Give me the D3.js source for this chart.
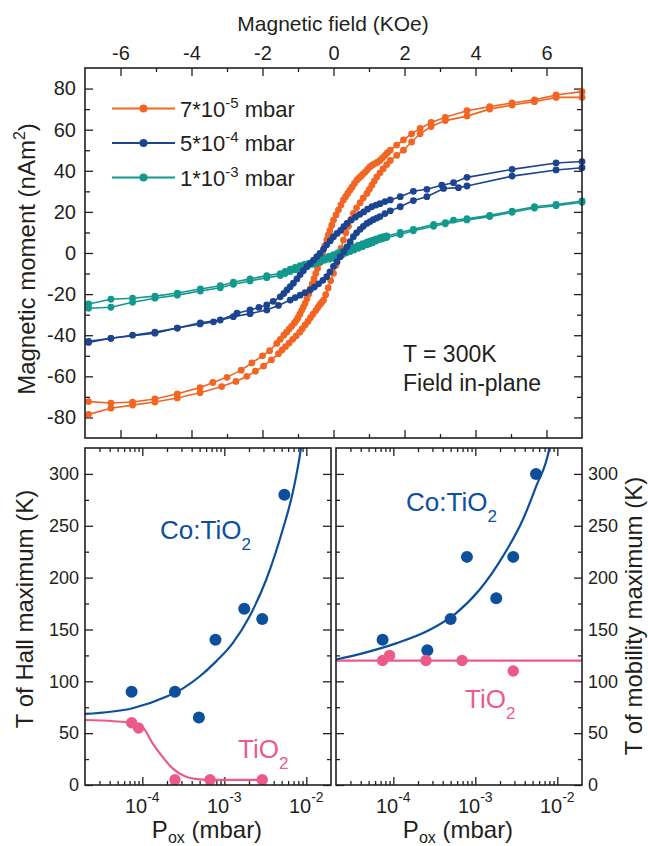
<!DOCTYPE html>
<html>
<head>
<meta charset="utf-8">
<script src="https://cdn.jsdelivr.net/npm/d3@7"></script>
<style>
  body { margin: 0; background: #fff; }
  svg { display: block; font-family: "Liberation Sans", Arial, Helvetica, sans-serif; }
</style>
</head>
<body>
<svg id="chart" width="648" height="846"></svg>
<script>
// ── Data ──────────────────────────────────────────────────────────────────────
// hysteresis loops, [field KOe, moment nAm^2]; "Down" = branch coming from +H, "Up" = from -H
const orangeDown = [
  [7.0,78.5],[6.27,76.9],[5.66,74.5],[5.03,73.0],[4.4,71.2],[3.76,69.2],[3.15,66.0],[2.75,63.5],
  [2.44,60.6],[2.2,58.0],[1.97,55.0],[1.78,52.5],[1.6,50.0],[1.52,48.8],[1.45,47.5],[1.38,46.3],
  [1.31,45.0],[1.24,44.2],[1.17,43.5],[1.1,42.8],[1.03,42.0],[0.96,40.7],[0.9,39.5],[0.84,38.5],
  [0.78,37.5],[0.72,36.5],[0.66,35.5],[0.59,33.8],[0.52,32.0],[0.46,30.5],[0.4,29.0],[0.34,27.4],
  [0.28,25.8],[0.21,23.4],[0.14,21.0],[0.07,18.5],[0.0,16.0],[-0.05,13.5],[-0.1,11.0],[-0.15,8.7],
  [-0.19,6.3],[-0.25,3.4],[-0.3,0.5],[-0.35,-2.3],[-0.4,-5.0],[-0.45,-7.5],[-0.5,-10.0],[-0.55,-12.5],
  [-0.6,-15.0],[-0.65,-17.5],[-0.7,-20.0],[-0.75,-22.3],[-0.8,-24.5],[-0.85,-26.3],[-0.9,-28.0],
  [-0.95,-29.8],[-1.0,-31.5],[-1.05,-32.8],[-1.1,-34.0],[-1.18,-35.6],[-1.25,-37.0],[-1.32,-38.5],
  [-1.4,-40.0],[-1.5,-42.0],[-1.6,-44.0],[-1.8,-47.5],[-2.0,-50.0],[-2.3,-53.5],[-2.6,-57.0],
  [-3.0,-60.5],[-3.4,-63.0],[-3.76,-65.5],[-4.4,-68.5],[-5.03,-71.0],[-5.66,-72.5],[-6.27,-73.0],
  [-6.9,-72.3]
];
const orangeUp = [
  [-6.9,-78.5],[-6.27,-75.5],[-5.66,-74.0],[-5.03,-72.5],[-4.4,-70.5],[-3.76,-68.0],[-3.15,-65.0],
  [-2.75,-62.5],[-2.44,-60.0],[-2.2,-57.5],[-1.97,-55.0],[-1.75,-52.0],[-1.55,-49.0],[-1.45,-47.2],
  [-1.35,-45.5],[-1.25,-43.8],[-1.15,-42.0],[-1.05,-40.3],[-0.95,-38.5],[-0.88,-36.8],[-0.8,-35.0],
  [-0.72,-33.3],[-0.65,-31.5],[-0.58,-29.8],[-0.5,-28.0],[-0.44,-26.5],[-0.38,-25.0],[-0.33,-24.0],
  [-0.28,-22.9],[-0.22,-20.3],[-0.15,-17.0],[-0.08,-13.5],[0.0,-9.9],[0.07,-6.0],[0.14,-2.0],
  [0.21,2.2],[0.28,6.3],[0.35,9.8],[0.42,13.0],[0.49,16.3],[0.56,19.3],[0.65,22.0],[0.75,24.5],
  [0.84,26.8],[0.94,29.0],[1.01,31.0],[1.08,33.0],[1.15,35.0],[1.22,37.0],[1.31,39.0],[1.4,41.0],
  [1.5,43.0],[1.6,45.0],[1.78,47.5],[1.97,50.0],[2.2,54.0],[2.44,58.0],[2.75,61.5],[3.15,64.4],
  [3.76,66.6],[4.4,70.0],[5.03,72.0],[5.66,73.6],[6.27,75.7],[7.0,75.7]
];
const navyDown = [
  [7.0,44.5],[6.27,43.8],[5.03,40.7],[3.76,36.8],[3.38,34.2],[3.05,33.0],[2.63,31.0],[2.25,30.0],
  [1.88,27.4],[1.6,25.8],[1.45,25.0],[1.31,24.0],[1.2,23.3],[1.08,22.5],[0.96,21.3],[0.85,20.0],
  [0.74,18.8],[0.62,17.5],[0.5,16.0],[0.38,14.4],[0.29,12.8],[0.2,11.0],[0.1,9.5],[0.0,7.9],
  [-0.09,6.0],[-0.19,4.0],[-0.28,1.9],[-0.38,-0.2],[-0.47,-1.8],[-0.56,-3.5],[-0.65,-5.0],
  [-0.75,-6.7],[-0.85,-8.6],[-0.94,-10.5],[-1.03,-12.6],[-1.13,-14.7],[-1.22,-16.4],[-1.31,-18.0],
  [-1.4,-19.7],[-1.5,-21.3],[-1.7,-23.5],[-1.88,-25.3],[-2.1,-26.5],[-2.35,-27.7],[-2.72,-29.3],
  [-3.19,-32.6],[-3.75,-34.0],[-4.4,-36.5],[-5.03,-38.5],[-5.66,-40.0],[-6.27,-41.5],[-6.9,-43.0]
];
const navyUp = [
  [-6.9,-43.5],[-6.27,-41.5],[-5.03,-39.0],[-4.4,-36.5],[-3.76,-34.5],[-3.38,-33.5],[-2.82,-31.0],
  [-2.35,-29.5],[-1.88,-27.7],[-1.55,-25.5],[-1.22,-22.9],[-1.08,-21.7],[-0.94,-20.5],[-0.8,-19.3],
  [-0.66,-18.0],[-0.54,-16.6],[-0.42,-15.0],[-0.3,-13.3],[-0.19,-11.5],[-0.1,-9.2],[0.0,-6.5],
  [0.1,-4.2],[0.19,-1.8],[0.29,0.6],[0.38,3.0],[0.47,5.5],[0.56,7.9],[0.65,9.8],[0.75,11.5],
  [0.84,13.0],[0.94,14.4],[1.03,15.3],[1.12,16.2],[1.22,17.0],[1.31,17.7],[1.45,19.2],[1.6,20.5],
  [1.88,22.5],[2.25,25.5],[2.63,27.4],[3.1,31.4],[3.52,31.8],[3.76,32.6],[5.03,37.4],[6.27,40.4],
  [7.0,41.5]
];
const tealDown = [
  [7.0,25.3],[6.27,23.6],[5.66,22.5],[5.03,20.4],[4.4,18.3],[3.76,16.7],[3.38,16.0],[3.15,14.8],
  [2.82,13.9],[2.25,11.5],[1.88,10.0],[1.5,8.3],[1.4,7.9],[1.31,7.5],[1.2,6.9],[1.1,6.3],[1.02,5.8],
  [0.94,5.3],[0.82,4.5],[0.7,3.8],[0.58,3.0],[0.47,2.3],[0.36,1.6],[0.25,1.0],[0.12,0.1],[0.0,-0.8],
  [-0.12,-1.5],[-0.25,-2.3],[-0.36,-2.9],[-0.47,-3.5],[-0.58,-4.2],[-0.7,-5.0],[-0.82,-5.6],
  [-0.94,-6.2],[-1.08,-7.0],[-1.22,-7.8],[-1.36,-8.9],[-1.5,-10.0],[-1.88,-11.0],[-2.35,-12.6],
  [-2.82,-14.2],[-3.19,-15.9],[-3.75,-17.5],[-4.4,-19.5],[-5.03,-21.0],[-5.66,-22.0],[-6.27,-22.5],
  [-6.9,-24.8]
];
const tealUp = [
  [-6.9,-26.9],[-6.27,-26.4],[-5.66,-24.0],[-5.03,-22.0],[-4.4,-20.5],[-3.75,-18.5],[-3.19,-16.9],
  [-2.82,-15.2],[-2.35,-13.6],[-1.88,-12.0],[-1.5,-11.0],[-1.36,-10.0],[-1.22,-9.0],[-1.08,-8.2],
  [-0.94,-7.5],[-0.82,-6.7],[-0.7,-6.0],[-0.58,-5.5],[-0.47,-5.0],[-0.36,-4.2],[-0.25,-3.5],
  [-0.12,-3.0],[0.0,-2.5],[0.12,-1.7],[0.25,-0.8],[0.36,0.0],[0.47,0.7],[0.58,1.5],[0.7,2.3],
  [0.82,3.1],[0.94,4.0],[1.02,4.5],[1.1,5.0],[1.2,5.8],[1.31,6.6],[1.4,7.0],[1.5,7.5],[1.88,9.0],
  [2.25,10.8],[2.82,13.0],[3.15,14.2],[3.76,16.1],[4.4,17.7],[5.03,19.8],[5.66,21.9],[6.27,23.0],
  [7.0,24.7]
];
const loopNames = [['7*10', '-5'], ['5*10', '-4'], ['1*10', '-3']];
const loopColors = ['#f26522', '#1c4490', '#12998f'];
const fieldTicks = [-6, -4, -2, 0, 2, 4, 6];
const fieldMinor = [-5, -3, -1, 1, 3, 5];
const momentTicks = [-80, -60, -40, -20, 0, 20, 40, 60, 80];
const momentMinor = [-70, -50, -30, -10, 10, 30, 50, 70];

// transition temperatures vs oxygen pressure, [P mbar, T K]
const coHall = [[7.4e-5,90],[2.5e-4,90],[4.9e-4,65],[7.8e-4,140],[1.75e-3,170],[2.9e-3,160],[5.4e-3,280]];
const tiHall = [[7.4e-5,60],[9.0e-5,55],[2.5e-4,5],[6.7e-4,5],[2.9e-3,5]];
const coHallFit = [[2e-5,68.5],[7.6e-5,74],[1.95e-4,85],[3.1e-4,93],[4.95e-4,104.4],[7.9e-4,119],
  [1.26e-3,136.6],[2.02e-3,162.3],[3.23e-3,197.7],[5.14e-3,245.9],[6.8e-3,281.3],[8.6e-3,324.7],[9.0e-3,336]];
const tiHallFit = [[2e-5,62.7],[4.5e-5,61.5],[6.9e-5,60],[1.0e-4,56],[1.34e-4,40],[1.77e-4,27],
  [2.34e-4,16],[3.41e-4,8],[5.0e-4,5.5],[7.0e-4,5],[2.93e-3,5]];
const coMob = [[7.4e-5,140],[2.6e-4,130],[5.0e-4,160],[7.9e-4,220],[1.8e-3,180],[2.9e-3,220],[5.5e-3,300]];
const tiMob = [[7.4e-5,120],[9.0e-5,125],[2.5e-4,120],[6.9e-4,120],[2.9e-3,110]];
const coMobFit = [[2e-5,121],[4.2e-5,127],[1.08e-4,136.6],[2.75e-4,149.5],[5.8e-4,165.6],[1.12e-3,188],
  [2.15e-3,220],[3.78e-3,255.5],[5.5e-3,287.7],[8e-3,324.7],[8.4e-3,334]];
const tiMobFit = [[2e-5,120],[2e-2,120]];
const pressTicks = [1e-4, 1e-3, 1e-2];
const pressExp = ['-4', '-3', '-2'];
const tempTicks = [0, 50, 100, 150, 200, 250, 300];
const tempMinor = [25, 75, 125, 175, 225, 275];

// ── Setup ─────────────────────────────────────────────────────────────────────
const INK = '#231f20';
const BLUE = '#0b4f9d';
const PINK = '#ec5a8c';
const svg = d3.select('#chart');
const plain = d => String(d);   // keeps the hyphen minus of the original

function styleAxis(g, size) {
  g.select('.domain').remove();
  g.selectAll('line').attr('stroke', INK).attr('stroke-width', 1.3);
  g.selectAll('text').attr('fill', INK).attr('font-size', size)
    .attr('font-family', '"Liberation Sans", Arial, sans-serif');
  g.attr('font-family', null).attr('font-size', null);
}

function frame(p) {
  svg.append('rect')
    .attr('x', p.x0).attr('y', p.y0)
    .attr('width', p.x1 - p.x0).attr('height', p.y1 - p.y0)
    .attr('fill', 'none').attr('stroke', INK).attr('stroke-width', 1.6);
}

// ── Top panel: magnetic hysteresis ────────────────────────────────────────────
const topP = { x0: 85, x1: 582, y0: 68, y1: 438 };
const xField = d3.scaleLinear().domain([-7, 7]).range([topP.x0, topP.x1]);
const yMoment = d3.scaleLinear().domain([-90, 90]).range([topP.y1, topP.y0]);

svg.append('g').attr('transform', `translate(0,${topP.y0})`)
  .call(d3.axisTop(xField).tickValues(fieldTicks).tickSize(-8).tickPadding(8).tickFormat(plain))
  .call(g => styleAxis(g, 20));
svg.append('g').attr('transform', `translate(0,${topP.y0})`)
  .call(d3.axisTop(xField).tickValues(fieldMinor).tickSize(-4).tickFormat(''))
  .call(g => styleAxis(g, 20));
svg.append('g').attr('transform', `translate(0,${topP.y1})`)
  .call(d3.axisBottom(xField).tickValues(fieldTicks).tickSize(-8).tickFormat(''))
  .call(g => styleAxis(g, 20));
svg.append('g').attr('transform', `translate(0,${topP.y1})`)
  .call(d3.axisBottom(xField).tickValues(fieldMinor).tickSize(-4).tickFormat(''))
  .call(g => styleAxis(g, 20));
svg.append('g').attr('transform', `translate(${topP.x0},0)`)
  .call(d3.axisLeft(yMoment).tickValues(momentTicks).tickSize(-8).tickPadding(9).tickFormat(plain))
  .call(g => styleAxis(g, 20));
svg.append('g').attr('transform', `translate(${topP.x0},0)`)
  .call(d3.axisLeft(yMoment).tickValues(momentMinor).tickSize(-5).tickFormat(''))
  .call(g => styleAxis(g, 20));
svg.append('g').attr('transform', `translate(${topP.x1},0)`)
  .call(d3.axisRight(yMoment).tickValues(momentTicks).tickSize(-8).tickFormat(''))
  .call(g => styleAxis(g, 20));
svg.append('g').attr('transform', `translate(${topP.x1},0)`)
  .call(d3.axisRight(yMoment).tickValues(momentMinor).tickSize(-5).tickFormat(''))
  .call(g => styleAxis(g, 20));

const loopLine = d3.line().x(d => xField(d[0])).y(d => yMoment(d[1]));
const loops = [
  { color: loopColors[0], branches: [orangeDown, orangeUp] },
  { color: loopColors[2], branches: [tealDown, tealUp] },
  { color: loopColors[1], branches: [navyDown, navyUp] }
];
loops.forEach(loop => {
  const g = svg.append('g');
  loop.branches.forEach(b => {
    g.append('path').attr('d', loopLine(b))
      .attr('fill', 'none').attr('stroke', loop.color).attr('stroke-width', 1.6);
  });
  loop.branches.forEach(b => {
    g.selectAll(null).data(b).enter().append('circle')
      .attr('cx', d => xField(d[0])).attr('cy', d => yMoment(d[1]))
      .attr('r', 3.4).attr('fill', loop.color);
  });
});

frame(topP);

// legend
const legend = svg.append('g');
loopNames.forEach((name, i) => {
  const y = 108.5 + i * 34.5;
  legend.append('line').attr('x1', 112).attr('x2', 175).attr('y1', y).attr('y2', y)
    .attr('stroke', loopColors[i]).attr('stroke-width', 1.8);
  legend.append('circle').attr('cx', 143.5).attr('cy', y).attr('r', 4).attr('fill', loopColors[i]);
  const t = legend.append('text').attr('x', 180).attr('y', y + 8)
    .attr('font-size', 22).attr('fill', INK);
  t.append('tspan').text(name[0]);
  t.append('tspan').attr('dy', -9).attr('font-size', 15).text(name[1]);
  t.append('tspan').attr('dy', 9).text(' mbar');
});

svg.append('text').attr('x', 403).attr('y', 362).attr('font-size', 23).attr('fill', INK).text('T = 300K');
svg.append('text').attr('x', 403).attr('y', 391).attr('font-size', 23).attr('fill', INK).text('Field in-plane');

svg.append('text').attr('x', 333).attr('y', 31).attr('text-anchor', 'middle')
  .attr('font-size', 21).attr('fill', INK).text('Magnetic field (KOe)');

const yTitle = svg.append('text')
  .attr('transform', 'translate(35,259) rotate(-90)')
  .attr('text-anchor', 'middle').attr('font-size', 24).attr('fill', INK);
yTitle.append('tspan').text('Magnetic moment (nAm');
yTitle.append('tspan').attr('dy', -10).attr('font-size', 16).text('2');
yTitle.append('tspan').attr('dy', 10).text(')');

// ── Bottom panels: transition temperatures ───────────────────────────────────
const panelL = { x0: 85, x1: 331, y0: 448, y1: 785 };
const panelR = { x0: 336, x1: 582, y0: 448, y1: 785 };
const yTemp = d3.scaleLinear().domain([0, 325]).range([785, 448]);

function pressurePanel(p, id, labelSide, coPts, tiPts, coFit, tiFit, coLab, tiLab) {
  const x = d3.scaleLog().domain([2e-5, 2e-2]).range([p.x0, p.x1]);
  const minor = x.ticks().filter(v => !pressTicks.some(m => Math.abs(m - v) / m < 1e-6))
    .filter(v => x(v) > p.x0 + 1 && x(v) < p.x1 - 1);

  [[p.y1, d3.axisBottom], [p.y0, d3.axisTop]].forEach(([yy, ax]) => {
    svg.append('g').attr('transform', `translate(0,${yy})`)
      .call(ax(x).tickValues(pressTicks).tickSize(-8).tickFormat(''))
      .call(g => styleAxis(g, 18));
    svg.append('g').attr('transform', `translate(0,${yy})`)
      .call(ax(x).tickValues(minor).tickSize(-4).tickFormat(''))
      .call(g => styleAxis(g, 18));
  });
  [[p.x0, d3.axisLeft, labelSide === 'left'], [p.x1, d3.axisRight, labelSide === 'right']].forEach(([xx, ax, lab]) => {
    svg.append('g').attr('transform', `translate(${xx},0)`)
      .call(ax(yTemp).tickValues(tempTicks).tickSize(-8).tickPadding(6).tickFormat(lab ? plain : ''))
      .call(g => styleAxis(g, 18));
    svg.append('g').attr('transform', `translate(${xx},0)`)
      .call(ax(yTemp).tickValues(tempMinor).tickSize(-4).tickFormat(''))
      .call(g => styleAxis(g, 18));
  });

  // decade labels with superscripts
  pressTicks.forEach((v, i) => {
    const t = svg.append('text').attr('x', x(v)).attr('y', 813)
      .attr('text-anchor', 'middle').attr('font-size', 20).attr('fill', INK);
    t.append('tspan').text('10');
    t.append('tspan').attr('dy', -11).attr('font-size', 14).text(pressExp[i]);
  });

  svg.append('clipPath').attr('id', id)
    .append('rect').attr('x', p.x0).attr('y', p.y0)
    .attr('width', p.x1 - p.x0).attr('height', p.y1 - p.y0);

  const line = d3.line().x(d => x(d[0])).y(d => yTemp(d[1])).curve(d3.curveMonotoneX);
  const g = svg.append('g').attr('clip-path', `url(#${id})`);
  g.append('path').attr('d', line(tiFit)).attr('fill', 'none').attr('stroke', PINK).attr('stroke-width', 2.2);
  g.append('path').attr('d', line(coFit)).attr('fill', 'none').attr('stroke', BLUE).attr('stroke-width', 2.2);
  g.selectAll(null).data(coPts).enter().append('circle')
    .attr('cx', d => x(d[0])).attr('cy', d => yTemp(d[1])).attr('r', 6).attr('fill', BLUE);
  g.selectAll(null).data(tiPts).enter().append('circle')
    .attr('cx', d => x(d[0])).attr('cy', d => yTemp(d[1])).attr('r', 5.7).attr('fill', PINK);

  frame(p);

  const c = svg.append('text').attr('x', coLab[0]).attr('y', coLab[1])
    .attr('font-size', 26).attr('fill', BLUE);
  c.append('tspan').text('Co:TiO');
  c.append('tspan').attr('dy', 11).attr('font-size', 17).text('2');
  const ti = svg.append('text').attr('x', tiLab[0]).attr('y', tiLab[1])
    .attr('font-size', 26).attr('fill', PINK);
  ti.append('tspan').text('TiO');
  ti.append('tspan').attr('dy', 11).attr('font-size', 17).text('2');

  const xt = svg.append('text').attr('x', (p.x0 + p.x1) / 2 - 1).attr('y', 838)
    .attr('text-anchor', 'middle').attr('font-size', 24).attr('fill', INK);
  xt.append('tspan').text('P');
  xt.append('tspan').attr('dy', 5).attr('font-size', 16).text('ox');
  xt.append('tspan').attr('dy', -5).text(' (mbar)');
}

pressurePanel(panelL, 'clipL', 'left', coHall, tiHall, coHallFit, tiHallFit, [160, 539], [238, 758]);
pressurePanel(panelR, 'clipR', 'right', coMob, tiMob, coMobFit, tiMobFit, [406, 511], [465, 708]);

svg.append('text').attr('transform', 'translate(33,609) rotate(-90)')
  .attr('text-anchor', 'middle').attr('font-size', 24).attr('fill', INK).text('T of Hall maximum (K)');
svg.append('text').attr('transform', 'translate(642,616) rotate(-90)')
  .attr('text-anchor', 'middle').attr('font-size', 24).attr('fill', INK).text('T of mobility maximum (K)');
</script>
</body>
</html>
